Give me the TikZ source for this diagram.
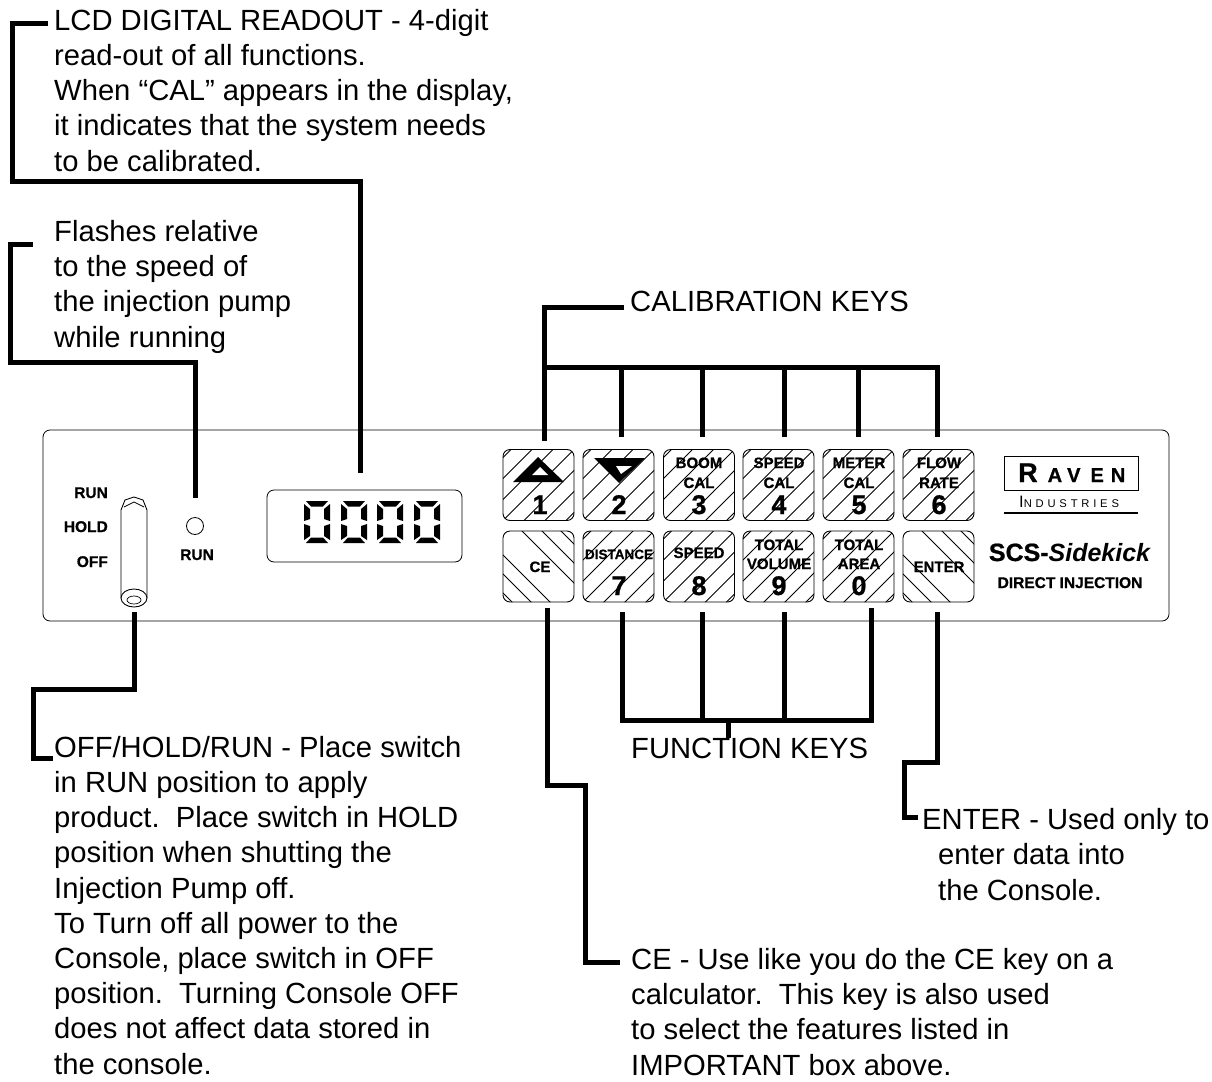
\documentclass[tikz,border=0pt]{standalone}
\usepackage{fontspec}
\setmainfont{Liberation Sans}[BoldFeatures={FakeBold=.8}]
\newfontfamily\widefont[LetterSpace=34]{Liberation Sans}

\newcommand{\callfont}{\fontsize{29.2}{35.2}\selectfont}
\newcommand{\keyfont}{\fontsize{15}{18}\selectfont\bfseries}
\newcommand{\numfont}{\fontsize{27}{30}\selectfont\bfseries}

\tikzset{
    leader/.style={line width=5pt},
    callout/.style={anchor=base west, align=left, inner sep=0pt, font=\callfont},
    panelbox/.style={draw, rounded corners=7pt, line width=.8pt},
    keybox/.style={draw, rounded corners=7pt, minimum size=71pt, inner sep=0pt, line width=.9pt},
    keyup/.style={keybox, path picture={
        \foreach \c in {-84,-63,...,84}
            \draw[line width=.8pt] ([shift={(\c-50,50)}]path picture bounding box.center) -- ++(100,-100);}},
    keydown/.style={keybox, path picture={
        \foreach \c in {-62,-43,-24,19,39,58}
            \draw[line width=.8pt] ([shift={(\c-50,-50)}]path picture bounding box.center) -- ++(100,100);}},
    keylabel/.style={anchor=base, inner sep=0pt, font=\keyfont},
    keynum/.style={anchor=base, inner sep=0pt, font=\numfont},
    panellabel/.style={anchor=base, inner sep=0pt, font=\fontsize{15.5}{18}\selectfont\bfseries}
}

% one display digit, showing zero
\newcommand{\zerodigit}[1]{
    \begin{scope}[shift={(#1,501)}]
        \fill (2,0) -- (24,0) -- (19,5.5) -- (7,5.5) -- cycle;
        \fill (2,42) -- (24,42) -- (19,36.5) -- (7,36.5) -- cycle;
        \fill (0,3) -- (6,8) -- (6,18) -- (0,20) -- cycle;
        \fill (26,3) -- (20,8) -- (20,18) -- (26,20) -- cycle;
        \fill (0,23) -- (6,25) -- (6,35) -- (0,39) -- cycle;
        \fill (26,23) -- (20,25) -- (20,35) -- (26,39) -- cycle;
    \end{scope}
}

\begin{document}
\begin{tikzpicture}[x=1pt,y=-1pt]
    \useasboundingbox (0,0) rectangle (1212,1081);

    % console
    \draw[panelbox] (43,430) rectangle (1169,621);
    \draw[panelbox] (267,490) rectangle (462,562);
    \zerodigit{304}
    \zerodigit{341}
    \zerodigit{377}
    \zerodigit{414}

    % switch
    \draw[line width=.9pt, fill=white] (121,598) -- (121,510) -- (125,500) -- (134,497)
        -- (143,500) -- (147,510) -- (147,598);
    \draw[line width=.7pt] (124,507) -- (134,502) -- (144,507);
    \draw[line width=.9pt, fill=white] (134,598) ellipse (13 and 9);
    \draw[line width=.7pt] (134,600) ellipse (7 and 4);

    \node[panellabel, anchor=base east] (runlbl) at (108,498) {RUN};
    \node[panellabel, anchor=base east] (holdlbl) at (108,532) {HOLD};
    \node[panellabel, anchor=base east] (offlbl) at (108,567) {OFF};
    \node[draw, circle, inner sep=0pt, minimum size=17pt, line width=.8pt] (led) at (195,526) {};
    \node[panellabel] (ledlbl) at (197,560) {RUN};

    % upper row of keys
    \node[keyup] (key1) at (538.5,485) {};
    \node[keyup] (key2) at (618.5,485) {};
    \node[keyup] (key3) at (699,485) {};
    \node[keyup] (key4) at (778.5,485) {};
    \node[keyup] (key5) at (858.5,485) {};
    \node[keyup] (key6) at (938.5,485) {};

    % lower row of keys
    \node[keydown] (keyce) at (538.5,566.5) {};
    \node[keyup] (key7) at (618.5,566.5) {};
    \node[keyup] (key8) at (699,566.5) {};
    \node[keyup] (key9) at (778.5,566.5) {};
    \node[keyup] (key0) at (858.5,566.5) {};
    \node[keydown] (keyenter) at (938.5,566.5) {};

    \fill (513,482) -- (538,457) -- (564,482) -- cycle;
    \fill[white] (532,475) -- (540,467) -- (548,475) -- cycle;
    \fill (594,458) -- (645,458) -- (619,483) -- cycle;
    \fill[white] (616,466) -- (632,466) -- (621,474) -- cycle;

    \node[keynum] (num1) at (540,514) {1};
    \node[keynum] (num2) at (619,514) {2};
    \node[keylabel] (boom) at (699,468) {BOOM};
    \node[keylabel] (boomcal) at (699,488) {CAL};
    \node[keynum] (num3) at (699,514) {3};
    \node[keylabel] (speedcal) at (779,468) {SPEED};
    \node[keylabel] (speedcalb) at (779,488) {CAL};
    \node[keynum] (num4) at (779,514) {4};
    \node[keylabel] (meter) at (859,468) {METER};
    \node[keylabel] (metercal) at (859,488) {CAL};
    \node[keynum] (num5) at (859,514) {5};
    \node[keylabel] (flow) at (939,468) {FLOW};
    \node[keylabel] (rate) at (939,488) {RATE};
    \node[keynum] (num6) at (939,514) {6};

    \node[keylabel] (cetxt) at (540,572) {CE};
    \node[keylabel, font=\fontsize{13.5}{16}\selectfont\bfseries] (distance) at (619,559) {DISTANCE};
    \node[keynum] (num7) at (619,595) {7};
    \node[keylabel] (speed) at (699,558) {SPEED};
    \node[keynum] (num8) at (699,595) {8};
    \node[keylabel] (totalv) at (779,550) {TOTAL};
    \node[keylabel] (volume) at (779,569) {VOLUME};
    \node[keynum] (num9) at (779,595) {9};
    \node[keylabel] (totala) at (859,550) {TOTAL};
    \node[keylabel] (area) at (859,569) {AREA};
    \node[keynum] (num0) at (859,595) {0};
    \node[keylabel] (entertxt) at (939,572) {ENTER};

    % logo
    \draw[line width=.8pt] (1004,456) rectangle (1138,490);
    \node[anchor=base west, inner sep=0pt] (raven) at (1018,482) {\bfseries\fontsize{27}{30}\selectfont R\hspace{10pt}\fontsize{20}{22}\selectfont A\hspace{5pt}V\hspace{10pt}E\hspace{7pt}N};
    \node[anchor=base west, inner sep=0pt] (industries) at (1019,507) {\widefont\fontsize{16.5}{18}\selectfont I\fontsize{11.2}{18}\selectfont NDUSTRIES};
    \coordinate (barleft) at (1004,513);
    \coordinate (barright) at (1138,513);
    \draw[line width=2.5pt] (barleft) -- (barright);
    \node[anchor=base, inner sep=0pt, font=\fontsize{25}{28}\selectfont\bfseries] (scs) at (1070,561) {SCS-\textit{Sidekick}};
    \node[anchor=base, inner sep=0pt, font=\fontsize{15.5}{18}\selectfont\bfseries] (direct) at (1070,588) {DIRECT INJECTION};

    % call-outs
    \node[callout] (lcdtext) at (54,171) {LCD DIGITAL READOUT - 4-digit\\read-out of all functions.\\When “CAL” appears in the display,\\it indicates that the system needs\\to be calibrated.};
    \node[callout] (flashtext) at (54,347) {Flashes relative\\to the speed of\\the injection pump\\while running};
    \node[callout] (caltext) at (630,311) {CALIBRATION KEYS};
    \node[callout] (functext) at (631,758) {FUNCTION KEYS};
    \node[callout] (switchtext) at (54,1074) {OFF/HOLD/RUN - Place switch\\in RUN position to apply\\product.~~Place switch in HOLD\\position when shutting the\\Injection Pump off.\\To Turn off all power to the\\Console, place switch in OFF\\position.~~Turning Console OFF\\does not affect data stored in\\the console.};
    \node[callout] (entertext) at (922,900) {ENTER - Used only to\\\hspace*{16pt}enter data into\\\hspace*{16pt}the Console.};
    \node[callout] (cetext) at (631,1075) {CE - Use like you do the CE key on a\\calculator.~~This key is also used\\to select the features listed in\\IMPORTANT box above.};

    % free ends of the leaders
    \coordinate (lcdtag) at (48,24);
    \coordinate (lcdend) at (360,473);
    \coordinate (flashtag) at (33,244);
    \coordinate (flashend) at (195,498);
    \coordinate (switchtop) at (134,612);
    \coordinate (switchtag) at (53,758);
    \coordinate (caltag) at (624,307);
    \coordinate (cetop) at (547,608);
    \coordinate (cetag) at (620,962);
    \coordinate (entertop) at (937,612);
    \coordinate (entertag) at (918,817);

    \draw[leader] (lcdtag) -- (12,24) -- (12,181) -- (360,181) -- (lcdend);
    \draw[leader] (flashtag) -- (10,244) -- (10,362) -- (195,362) -- (flashend);
    \draw[leader] (switchtop) -- (134,689) -- (33,689) -- (33,758) -- (switchtag);
    \draw[leader] (caltag) -- (544,307) -- (544,441);
    \draw[leader] (544,367) -- (937,367) -- (937,437);
    \draw[leader] (621,367) -- (621,437);
    \draw[leader] (702,367) -- (702,437);
    \draw[leader] (784,367) -- (784,437);
    \draw[leader] (858,367) -- (858,437);
    \draw[leader] (622,612) -- (622,720) -- (871,720) -- (871,608);
    \draw[leader] (702,612) -- (702,720);
    \draw[leader] (784,612) -- (784,720);
    \draw[leader] (728,720) -- (728,738);
    \draw[leader] (cetop) -- (547,785) -- (585,785) -- (585,962) -- (cetag);
    \draw[leader] (entertop) -- (937,762) -- (904,762) -- (904,817) -- (entertag);
\end{tikzpicture}
\end{document}
